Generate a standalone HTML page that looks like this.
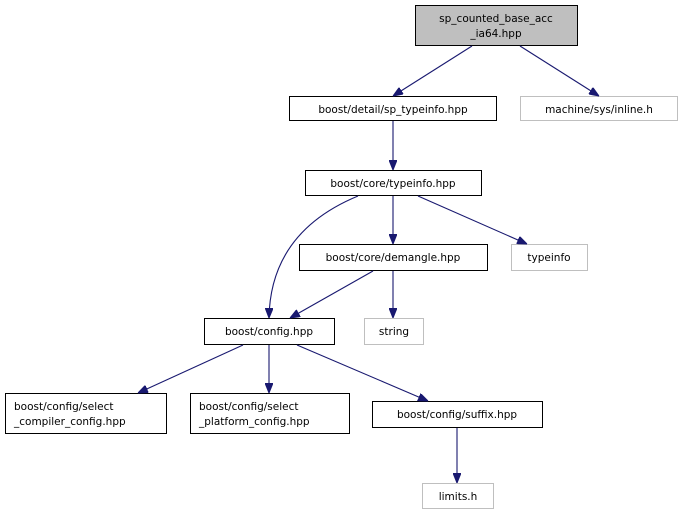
<!DOCTYPE html>
<html><head><meta charset="utf-8"><style>
html,body{margin:0;padding:0;background:#fff;}
svg{display:block;}
text{font-family:"DejaVu Sans","Liberation Sans",sans-serif;font-size:10.5px;fill:#000;text-anchor:middle;}
.b{fill:#fff;stroke:#000;stroke-width:1;}
.g{fill:#fff;stroke:#bfbfbf;stroke-width:1;}
.e{fill:none;stroke:#191970;stroke-width:1.1;}
</style></head><body>
<svg width="682" height="515" viewBox="0 0 682 515" xmlns="http://www.w3.org/2000/svg">
<defs><marker id="a" viewBox="0 0 10 8" refX="10" refY="4" markerWidth="10" markerHeight="8" markerUnits="userSpaceOnUse" orient="auto"><path d="M0,0 L10,4 L0,8 Z" fill="#191970" stroke="#191970"/></marker></defs>

<rect x="415.5" y="5.5" width="162" height="40" fill="#bfbfbf" stroke="#000"/>
<text x="496" y="22">sp_counted_base_acc</text><text x="496" y="37">_ia64.hpp</text>

<rect class="b" x="289.5" y="96.5" width="207" height="24"/><text x="393" y="113">boost/detail/sp_typeinfo.hpp</text>
<rect class="g" x="520.5" y="96.5" width="157" height="24"/><text x="599" y="113">machine/sys/inline.h</text>
<rect class="b" x="305.5" y="170.5" width="176" height="25"/><text x="393" y="187">boost/core/typeinfo.hpp</text>
<rect class="b" x="299.5" y="244.5" width="188" height="26"/><text x="393" y="261">boost/core/demangle.hpp</text>
<rect class="g" x="511.5" y="244.5" width="76" height="26"/><text x="549" y="261">typeinfo</text>
<rect class="b" x="204.5" y="318.5" width="130" height="26"/><text x="269" y="335">boost/config.hpp</text>
<rect class="g" x="364.5" y="318.5" width="59" height="26"/><text x="394" y="335">string</text>
<rect class="b" x="5.5" y="393.5" width="161" height="40"/><text x="14" y="410" style="text-anchor:start">boost/config/select</text><text x="14" y="425" style="text-anchor:start">_compiler_config.hpp</text>
<rect class="b" x="190.5" y="393.5" width="159" height="40"/><text x="199" y="410" style="text-anchor:start">boost/config/select</text><text x="199" y="425" style="text-anchor:start">_platform_config.hpp</text>
<rect class="b" x="372.5" y="401.5" width="170" height="26"/><text x="457" y="418">boost/config/suffix.hpp</text>
<rect class="g" x="422.5" y="483.5" width="71" height="25"/><text x="458" y="500">limits.h</text>

<path class="e" marker-end="url(#a)" d="M472,46 L393,96"/>
<path class="e" marker-end="url(#a)" d="M520,46 L599,96"/>
<path class="e" marker-end="url(#a)" d="M393,121 L393,170"/>
<path class="e" marker-end="url(#a)" d="M393,196 L393,244"/>
<path class="e" marker-end="url(#a)" d="M418,196 L527,244"/>
<path class="e" marker-end="url(#a)" d="M358,196 C300,220 270,260 269,318"/>
<path class="e" marker-end="url(#a)" d="M373,271 L290,318"/>
<path class="e" marker-end="url(#a)" d="M393,271 L393,318"/>
<path class="e" marker-end="url(#a)" d="M243,345 L138,393"/>
<path class="e" marker-end="url(#a)" d="M269,345 L269,393"/>
<path class="e" marker-end="url(#a)" d="M297,345 L428,401"/>
<path class="e" marker-end="url(#a)" d="M457,428 L457,483"/>
</svg>
</body></html>
